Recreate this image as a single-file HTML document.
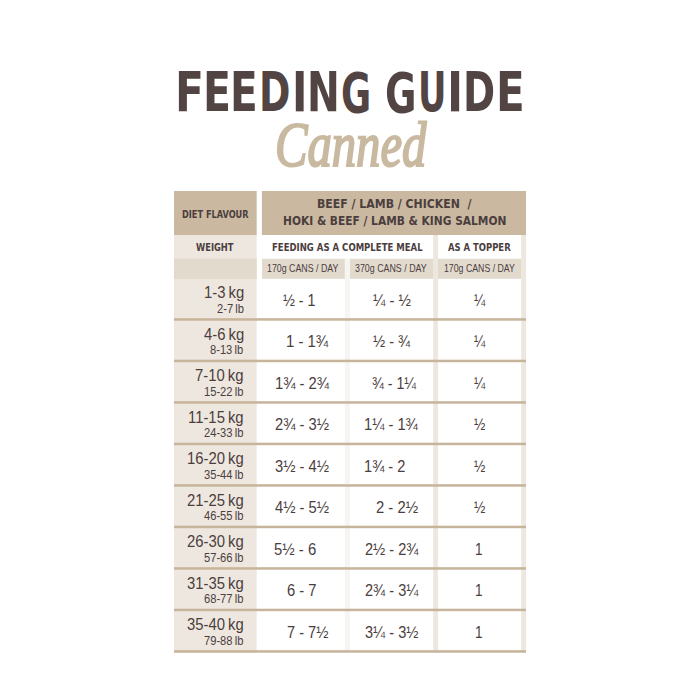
<!DOCTYPE html>
<html><head><meta charset="utf-8"><title>Feeding Guide – Canned</title>
<style>
html,body{margin:0;padding:0;background:#fff;}
body{width:700px;height:700px;position:relative;overflow:hidden;font-family:'Liberation Sans', Arial, sans-serif;}
svg.g{position:absolute;left:0;top:0;}
.t{position:absolute;white-space:pre;line-height:1;transform-origin:0 0;font-family:'Liberation Sans', Arial, sans-serif;font-weight:400;color:#4b3e3e;}
.dj{font-family:'DejaVu Sans Condensed','DejaVu Sans',sans-serif;font-stretch:condensed;font-weight:700;}
.ti{color:#514443;}
h1.title,h2.sub{margin:0;padding:0;position:absolute;left:0;top:0;width:0;height:0;font-size:0;}
.c{position:absolute;white-space:pre;line-height:1;transform-origin:0 0;font-family:'Liberation Serif', 'Times New Roman', serif;font-style:italic;font-weight:400;color:#c9b9a0;-webkit-text-stroke:2.4px #c9b9a0;}
</style></head><body>
<svg class="g" width="700" height="700" viewBox="0 0 700 700">
<rect x="174" y="191" width="82.7" height="44" fill="#cab9a0"/>
<rect x="261.9" y="191" width="264.1" height="44" fill="#cab9a0"/>
<rect x="174" y="235" width="82.7" height="417.7" fill="#eee7df"/>
<rect x="174" y="258.7" width="82.7" height="20.3" fill="#e3dace"/>
<rect x="344.8" y="258.5" width="5.2" height="394.2" fill="#f7f5f2"/>
<rect x="433.2" y="235" width="4.8" height="417.7" fill="#eee7df"/>
<rect x="521.2" y="235" width="4.8" height="417.7" fill="#eee7df"/>
<rect x="262" y="258.8" width="82.8" height="20.0" fill="#e3dace"/>
<rect x="350" y="258.8" width="83.2" height="20.0" fill="#e3dace"/>
<rect x="438" y="258.8" width="83.2" height="20.0" fill="#e3dace"/>
<rect x="174" y="318.2" width="352" height="2.5" fill="#c6b49b"/>
<rect x="174" y="359.7" width="352" height="2.5" fill="#c6b49b"/>
<rect x="174" y="401.2" width="352" height="2.5" fill="#c6b49b"/>
<rect x="174" y="442.7" width="352" height="2.5" fill="#c6b49b"/>
<rect x="174" y="484.2" width="352" height="2.5" fill="#c6b49b"/>
<rect x="174" y="525.7" width="352" height="2.5" fill="#c6b49b"/>
<rect x="174" y="567.2" width="352" height="2.5" fill="#c6b49b"/>
<rect x="174" y="608.7" width="352" height="2.5" fill="#c6b49b"/>
<rect x="174" y="650.2" width="352" height="2.5" fill="#c6b49b"/>
</svg>
<h1 class="title"><span class="t dj ti" style="left:174.62px;top:66.10px;font-size:54.25px;transform:scaleX(0.8692)">F</span><span class="t dj ti" style="left:202.55px;top:66.10px;font-size:54.25px;transform:scaleX(0.8385)">E</span><span class="t dj ti" style="left:230.28px;top:66.10px;font-size:54.25px;transform:scaleX(0.8308)">E</span><span class="t dj ti" style="left:258.59px;top:66.10px;font-size:54.25px;transform:scaleX(0.7765)">D</span><span class="t dj ti" style="left:291.70px;top:66.10px;font-size:54.25px;transform:scaleX(0.8500)">I</span><span class="t dj ti" style="left:307.29px;top:66.10px;font-size:54.25px;transform:scaleX(0.8030)">N</span><span class="t dj ti" style="left:340.59px;top:67.10px;font-size:54.25px;transform:scaleX(0.7543)">G</span> <span class="t dj ti" style="left:385.43px;top:67.10px;font-size:54.25px;transform:scaleX(0.7857)">G</span><span class="t dj ti" style="left:417.73px;top:66.10px;font-size:54.25px;transform:scaleX(0.7188)">U</span><span class="t dj ti" style="left:446.94px;top:66.10px;font-size:54.25px;transform:scaleX(0.8900)">I</span><span class="t dj ti" style="left:463.12px;top:66.10px;font-size:54.25px;transform:scaleX(0.7941)">D</span><span class="t dj ti" style="left:496.45px;top:66.10px;font-size:54.25px;transform:scaleX(0.8615)">E</span></h1>
<h2 class="sub"><span class="c" style="left:275.11px;top:113.77px;font-size:70px;transform:scale(0.6950,0.8906)">Canned</span></h2>
<div class="table">
<span class="t dj" style="left:181.90px;top:209.50px;font-size:10.82px;transform:scaleX(0.8430)">DIET FLAVOUR</span>
<span class="t dj" style="left:196.30px;top:242.30px;font-size:10.55px;transform:scaleX(0.8791)">WEIGHT</span>
<span class="t dj" style="left:316.58px;top:197.10px;font-size:13.15px;transform:scaleX(0.9247)">BEEF / LAMB / CHICKEN  /</span>
<span class="t dj" style="left:282.50px;top:213.80px;font-size:13.15px;transform:scaleX(0.9008)">HOKI &amp; BEEF / LAMB &amp; KING SALMON</span>
<span class="t dj" style="left:272.20px;top:243.00px;font-size:10.96px;transform:scaleX(0.8655)">FEEDING AS A COMPLETE MEAL</span>
<span class="t dj" style="left:448.20px;top:243.00px;font-size:10.96px;transform:scaleX(0.8575)">AS A TOPPER</span>
<span class="t" style="left:267.44px;top:263.30px;font-size:11.59px;transform:scaleX(0.7613)">170g CANS / DAY</span>
<span class="t" style="left:355.40px;top:263.30px;font-size:11.59px;transform:scaleX(0.7649)">370g CANS / DAY</span>
<span class="t" style="left:443.64px;top:263.30px;font-size:11.59px;transform:scaleX(0.7559)">170g CANS / DAY</span>
<span class="t" style="left:203.56px;top:284.30px;font-size:16.4px;transform:scaleX(0.9066)">1-3 kg</span>
<span class="t" style="left:216.52px;top:302.60px;font-size:12.0px;transform:scaleX(0.9286)">2-7 lb</span>
<span class="t" style="left:283.40px;top:292.70px;font-size:16.52px;transform:scaleX(0.8622)">½ - 1</span>
<span class="t" style="left:372.60px;top:292.70px;font-size:16.52px;transform:scaleX(0.9000)">¼ - ½</span>
<span class="t" style="left:473.76px;top:291.70px;font-size:16.5px;transform:scaleX(0.8200)">¼</span>
<span class="t" style="left:203.56px;top:325.80px;font-size:16.4px;transform:scaleX(0.9066)">4-6 kg</span>
<span class="t" style="left:210.02px;top:344.10px;font-size:12.0px;transform:scaleX(0.9286)">8-13 lb</span>
<span class="t" style="left:286.20px;top:334.20px;font-size:16.52px;transform:scaleX(0.9022)">1 - 1¾</span>
<span class="t" style="left:372.60px;top:334.20px;font-size:16.52px;transform:scaleX(0.8791)">½ - ¾</span>
<span class="t" style="left:473.76px;top:333.20px;font-size:16.5px;transform:scaleX(0.8200)">¼</span>
<span class="t" style="left:195.40px;top:367.30px;font-size:16.4px;transform:scaleX(0.9066)">7-10 kg</span>
<span class="t" style="left:204.45px;top:385.60px;font-size:12.0px;transform:scaleX(0.9286)">15-22 lb</span>
<span class="t" style="left:274.91px;top:375.70px;font-size:16.52px;transform:scaleX(0.8933)">1¾ - 2¾</span>
<span class="t" style="left:371.90px;top:375.70px;font-size:16.52px;transform:scaleX(0.8596)">¾ - 1¼</span>
<span class="t" style="left:473.76px;top:374.70px;font-size:16.5px;transform:scaleX(0.8200)">¼</span>
<span class="t" style="left:188.15px;top:408.80px;font-size:16.4px;transform:scaleX(0.9066)">11-15 kg</span>
<span class="t" style="left:204.45px;top:427.10px;font-size:12.0px;transform:scaleX(0.9286)">24-33 lb</span>
<span class="t" style="left:275.10px;top:417.20px;font-size:16.52px;transform:scaleX(0.8902)">2¾ - 3½</span>
<span class="t" style="left:364.21px;top:417.20px;font-size:16.52px;transform:scaleX(0.8883)">1¼ - 1¾</span>
<span class="t" style="left:473.76px;top:416.20px;font-size:16.5px;transform:scaleX(0.8200)">½</span>
<span class="t" style="left:187.24px;top:450.30px;font-size:16.4px;transform:scaleX(0.9066)">16-20 kg</span>
<span class="t" style="left:204.45px;top:468.60px;font-size:12.0px;transform:scaleX(0.9286)">35-44 lb</span>
<span class="t" style="left:275.10px;top:458.70px;font-size:16.52px;transform:scaleX(0.8902)">3½ - 4½</span>
<span class="t" style="left:363.72px;top:458.70px;font-size:16.52px;transform:scaleX(0.8848)">1¾ - 2</span>
<span class="t" style="left:473.76px;top:457.70px;font-size:16.5px;transform:scaleX(0.8200)">½</span>
<span class="t" style="left:187.24px;top:491.80px;font-size:16.4px;transform:scaleX(0.9066)">21-25 kg</span>
<span class="t" style="left:204.45px;top:510.10px;font-size:12.0px;transform:scaleX(0.9286)">46-55 lb</span>
<span class="t" style="left:275.10px;top:500.20px;font-size:16.52px;transform:scaleX(0.8902)">4½ - 5½</span>
<span class="t" style="left:375.70px;top:500.20px;font-size:16.52px;transform:scaleX(0.8979)">2 - 2½</span>
<span class="t" style="left:473.76px;top:499.20px;font-size:16.5px;transform:scaleX(0.8200)">½</span>
<span class="t" style="left:187.24px;top:533.30px;font-size:16.4px;transform:scaleX(0.9066)">26-30 kg</span>
<span class="t" style="left:204.45px;top:551.60px;font-size:12.0px;transform:scaleX(0.9286)">57-66 lb</span>
<span class="t" style="left:273.70px;top:541.70px;font-size:16.52px;transform:scaleX(0.9022)">5½ - 6</span>
<span class="t" style="left:364.60px;top:541.70px;font-size:16.52px;transform:scaleX(0.8820)">2½ - 2¾</span>
<span class="t" style="left:475.40px;top:540.70px;font-size:16.5px;transform:scaleX(0.8200)">1</span>
<span class="t" style="left:187.24px;top:574.80px;font-size:16.4px;transform:scaleX(0.9066)">31-35 kg</span>
<span class="t" style="left:204.45px;top:593.10px;font-size:12.0px;transform:scaleX(0.9286)">68-77 lb</span>
<span class="t" style="left:287.10px;top:583.20px;font-size:16.52px;transform:scaleX(0.8939)">6 - 7</span>
<span class="t" style="left:364.60px;top:583.20px;font-size:16.52px;transform:scaleX(0.8820)">2¾ - 3¼</span>
<span class="t" style="left:475.40px;top:582.20px;font-size:16.5px;transform:scaleX(0.8200)">1</span>
<span class="t" style="left:187.24px;top:616.30px;font-size:16.4px;transform:scaleX(0.9066)">35-40 kg</span>
<span class="t" style="left:204.45px;top:634.60px;font-size:12.0px;transform:scaleX(0.9286)">79-88 lb</span>
<span class="t" style="left:287.10px;top:624.70px;font-size:16.52px;transform:scaleX(0.8830)">7 - 7½</span>
<span class="t" style="left:364.60px;top:624.70px;font-size:16.52px;transform:scaleX(0.8820)">3¼ - 3½</span>
<span class="t" style="left:475.40px;top:623.70px;font-size:16.5px;transform:scaleX(0.8200)">1</span>
</div>
</body></html>
